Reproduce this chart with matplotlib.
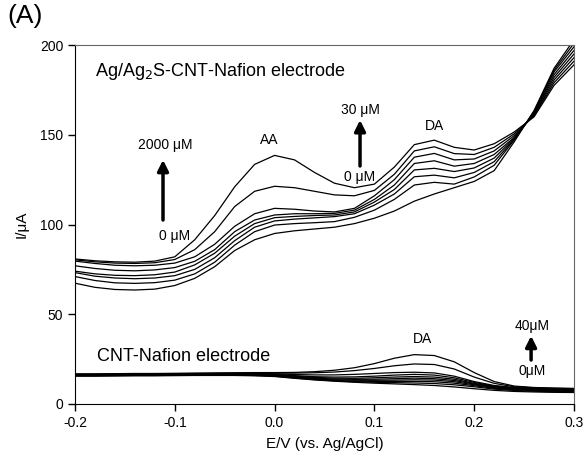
import matplotlib
matplotlib.use("Agg")
import matplotlib.pyplot as plt

plt.rcParams['font.family'] = ['Liberation Sans', 'DejaVu Sans']
plt.rcParams['axes.unicode_minus'] = False

# potential grid (V vs Ag/AgCl)
E = [-0.2, -0.18, -0.16, -0.14, -0.12, -0.1, -0.08, -0.06, -0.04, -0.02, 0.0,
     0.02, 0.04, 0.06, 0.08, 0.1, 0.12, 0.14, 0.16, 0.18, 0.2, 0.22, 0.24,
     0.26, 0.28, 0.3]

# Ag/Ag2S-CNT-Nafion electrode, AA 2000 -> 0 uM, DA 30 -> 0 uM
ag1 = [80.8, 79.8, 79.2, 79.0, 79.6, 82.0, 91.5, 105.0, 121.0, 133.5, 138.5,
       136.0, 129.0, 123.0, 120.5, 122.5, 132.0, 144.5, 147.0, 143.0, 141.5,
       145.0, 151.5, 160.0, 177.5, 189.0]
ag2 = [80.3, 79.2, 78.5, 78.3, 78.7, 80.5, 86.0, 96.0, 110.0, 118.5, 121.3,
       120.5, 118.5, 116.5, 116.0, 119.0, 128.0, 141.0, 143.3, 139.5, 139.0,
       143.0, 150.5, 160.5, 179.0, 191.0]
ag3 = [79.6, 78.3, 77.3, 77.0, 77.3, 78.5, 82.0, 89.0, 99.0, 106.0, 109.0,
       108.5, 107.5, 107.0, 109.0, 116.0, 125.0, 137.5, 139.6, 136.0, 136.5,
       141.0, 149.5, 161.0, 180.5, 193.0]
ag4 = [77.0, 75.5, 74.5, 74.2, 74.7, 76.0, 79.5, 86.0, 96.0, 102.5, 105.3,
       106.0, 106.0, 106.2, 108.0, 114.0, 122.0, 134.0, 135.5, 132.5, 134.0,
       139.0, 148.5, 161.5, 182.0, 195.0]
ag5 = [74.0, 72.5, 71.7, 71.5, 72.0, 73.5, 77.5, 84.0, 93.5, 100.5, 103.8,
       104.5, 105.0, 105.3, 107.0, 112.5, 119.5, 130.4, 131.3, 129.5, 131.5,
       137.0, 148.0, 162.0, 183.5, 197.0]
ag6 = [73.2, 71.2, 70.2, 69.8, 70.2, 71.5, 75.0, 81.5, 91.0, 98.5, 102.0,
       103.0, 103.7, 104.4, 106.0, 110.8, 117.0, 126.6, 127.5, 126.0, 129.0,
       135.0, 147.5, 162.5, 185.0, 199.0]
ag7 = [71.0, 68.8, 67.5, 67.2, 67.6, 69.0, 72.5, 79.0, 88.5, 96.0, 99.7,
       100.5, 101.0, 101.6, 104.0, 108.0, 114.0, 122.0, 123.5, 122.5, 126.5,
       133.0, 147.0, 163.0, 186.0, 201.0]
ag8 = [67.3, 65.0, 63.8, 63.5, 64.0, 66.0, 70.0, 76.5, 85.5, 91.5, 95.0,
       96.5, 97.5, 98.5, 100.5, 103.5, 107.5, 113.0, 117.0, 120.5, 124.0,
       130.0, 146.0, 163.5, 187.0, 203.0]

# CNT-Nafion electrode, DA 40 -> 0 uM
cn1 = [16.8, 16.8, 16.9, 17.0, 17.0, 17.1, 17.2, 17.3, 17.4, 17.5, 17.5,
       17.6, 18.0, 18.8, 20.2, 22.5, 25.5, 27.5, 27.0, 23.5, 17.5, 12.5, 10.0,
       9.2, 8.9, 8.7]
cn2 = [16.6, 16.6, 16.7, 16.8, 16.8, 16.9, 17.0, 17.1, 17.2, 17.2, 17.2,
       17.2, 17.4, 17.8, 18.6, 19.8, 21.3, 22.3, 22.0, 19.5, 15.0, 11.5, 9.6,
       9.0, 8.7, 8.5]
cn3 = [16.4, 16.4, 16.5, 16.6, 16.6, 16.7, 16.8, 16.9, 16.9, 16.9, 16.8,
       16.4, 16.2, 16.2, 16.5, 17.0, 17.5, 17.7, 17.3, 15.5, 12.5, 10.3, 9.2,
       8.7, 8.4, 8.2]
cn4 = [16.3, 16.3, 16.4, 16.5, 16.5, 16.6, 16.7, 16.7, 16.7, 16.6, 16.5,
       15.8, 15.2, 15.0, 15.1, 15.5, 16.1, 16.5, 16.1, 14.6, 12.0, 10.0, 9.0,
       8.4, 8.1, 8.0]
cn5 = [16.2, 16.2, 16.3, 16.4, 16.4, 16.5, 16.6, 16.6, 16.6, 16.5, 16.3,
       15.5, 14.8, 14.4, 14.3, 14.6, 15.0, 15.3, 15.0, 13.8, 11.5, 9.7, 8.8,
       8.2, 7.9, 7.8]
cn6 = [16.1, 16.1, 16.2, 16.3, 16.3, 16.4, 16.5, 16.5, 16.5, 16.4, 16.1,
       15.2, 14.4, 13.9, 13.7, 13.8, 14.1, 14.4, 14.1, 13.1, 11.1, 9.4, 8.5,
       8.0, 7.7, 7.6]
cn7 = [16.0, 16.0, 16.1, 16.2, 16.2, 16.3, 16.4, 16.4, 16.4, 16.3, 15.9,
       15.0, 14.1, 13.5, 13.2, 13.2, 13.3, 13.5, 13.3, 12.4, 10.7, 9.1, 8.2,
       7.7, 7.4, 7.3]
cn8 = [15.9, 15.9, 16.0, 16.1, 16.1, 16.2, 16.3, 16.3, 16.3, 16.1, 15.7,
       14.7, 13.8, 13.1, 12.7, 12.6, 12.6, 12.6, 12.4, 11.6, 10.2, 8.7, 7.9,
       7.4, 7.1, 7.0]
cn9 = [15.7, 15.7, 15.8, 15.9, 15.9, 16.0, 16.1, 16.1, 16.1, 15.9, 15.5,
       14.5, 13.6, 12.9, 12.4, 12.1, 11.9, 11.7, 11.4, 10.7, 9.6, 8.3, 7.5,
       7.1, 6.8, 6.7]
cn10 = [15.5, 15.5, 15.6, 15.7, 15.7, 15.8, 15.9, 15.9, 15.9, 15.7, 15.3,
        14.3, 13.4, 12.7, 12.1, 11.6, 11.2, 10.8, 10.3, 9.5, 8.5, 7.6, 7.0,
        6.7, 6.5, 6.4]

fig = plt.figure(figsize=(5.84, 4.65), dpi=100)
ax = fig.add_axes([0.1284, 0.1312, 0.8545, 0.772])

for y in [ag1, ag2, ag3, ag4, ag5, ag6, ag7, ag8]:
    ax.plot(E, y, color='black', lw=0.9, solid_joinstyle='round')
for y in [cn1, cn2, cn3, cn4, cn5, cn6, cn7, cn8, cn9, cn10]:
    ax.plot(E, y, color='black', lw=0.9, solid_joinstyle='round')

ax.set_xlim(-0.2, 0.3)
ax.set_ylim(0, 200)
ax.set_xticks([-0.2, -0.1, 0.0, 0.1, 0.2, 0.3])
ax.set_xticklabels(['-0.2', '-0.1', '0.0', '0.1', '0.2', '0.3'])
ax.set_yticks([0, 50, 100, 150, 200])
ax.tick_params(direction='out', length=5, width=1, labelsize=10, top=False, right=False)
for s in ['top', 'right']:
    ax.spines[s].set_color('#666666')

ax.set_xlabel('E/V (vs. Ag/AgCl)', fontsize=11, labelpad=5)
ax.set_ylabel('I/\u03bcA', fontsize=11, labelpad=8)

fig.text(0.012, 0.966, '(A)', fontsize=19, va='center', ha='left')

ax.text(-0.18, 185, 'Ag/Ag$_2$S-CNT-Nafion electrode', fontsize=13, va='center', ha='left')
ax.text(-0.178, 26.7, 'CNT-Nafion electrode', fontsize=13, va='center', ha='left')

ax.text(-0.0056, 147, 'AA', fontsize=10, ha='center', va='center')
ax.text(0.1607, 155, 'DA', fontsize=10, ha='center', va='center')
ax.text(0.1477, 36.2, 'DA', fontsize=10, ha='center', va='center')

ax.text(-0.11, 144.3, '2000 \u03bcM', fontsize=10, ha='center', va='center')
ax.text(-0.1, 93.6, '0 \u03bcM', fontsize=10, ha='center', va='center')
ax.text(0.0856, 163.8, '30 \u03bcM', fontsize=10, ha='center', va='center')
ax.text(0.0856, 126.5, '0 \u03bcM', fontsize=10, ha='center', va='center')
ax.text(0.258, 43.5, '40\u03bcM', fontsize=10, ha='center', va='center')
ax.text(0.258, 18.4, '0\u03bcM', fontsize=10, ha='center', va='center')

arrow = dict(arrowstyle='-|>', lw=2.5, mutation_scale=16, color='black',
             shrinkA=0, shrinkB=0)
ax.annotate('', xy=(-0.1118, 136), xytext=(-0.1118, 102.5), arrowprops=arrow)
ax.annotate('', xy=(0.0856, 158.2), xytext=(0.0856, 132.6), arrowprops=arrow)
ax.annotate('', xy=(0.257, 38), xytext=(0.257, 24.5), arrowprops=arrow)

plt.savefig('out.png', dpi=100)
